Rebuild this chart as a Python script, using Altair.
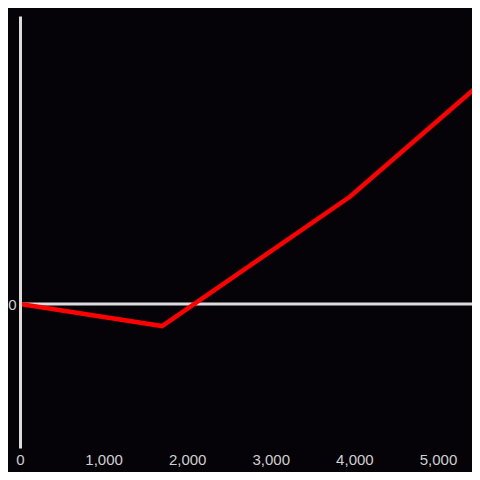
import altair as alt
import pandas as pd

xs = [0, 1700, 3950, 5500]
ys = [0, -23, 112, 229]

df = pd.DataFrame({"x": xs, "y": ys})
zero = pd.DataFrame({"y": [0]})

bg = "#050308"
axis_col = "#dcdcdc"
label_col = "#cfcfcf"

xscale = alt.Scale(domain=[0, 5407], nice=False, zero=False)
yscale = alt.Scale(domain=[-150, 300], nice=False, zero=False)

rule = alt.Chart(zero).mark_rule(color=axis_col, strokeWidth=3).encode(
    y=alt.Y("y:Q", scale=yscale)
)

line = alt.Chart(df).mark_line(color="#ff0000", strokeWidth=4.5, strokeJoin="miter", clip=True).encode(
    x=alt.X("x:Q", scale=xscale,
            axis=alt.Axis(title=None, domain=False, ticks=False, grid=False,
                          values=[0, 1000, 2000, 3000, 4000, 5000],
                          format=",d", labelColor=label_col, labelFontSize=15,
                          labelFont="Liberation Sans", labelPadding=4, labelFlush=False)),
    y=alt.Y("y:Q", scale=yscale,
            axis=alt.Axis(title=None, domain=True, domainColor=axis_col, domainWidth=3,
                          ticks=False, grid=False, values=[0], zindex=1,
                          labelColor=label_col, labelFontSize=15,
                          labelFont="Liberation Sans", labelPadding=4)),
)

chart = alt.layer(rule, line).properties(
    width=452, height=432,
    autosize=alt.AutoSizeParams(type="none"),
    padding={"left": 12, "top": 8, "right": 0, "bottom": 24},
    background=bg,
).configure_view(stroke=None)

chart.save("out.html", embed_options={"renderer": "svg", "actions": False})
